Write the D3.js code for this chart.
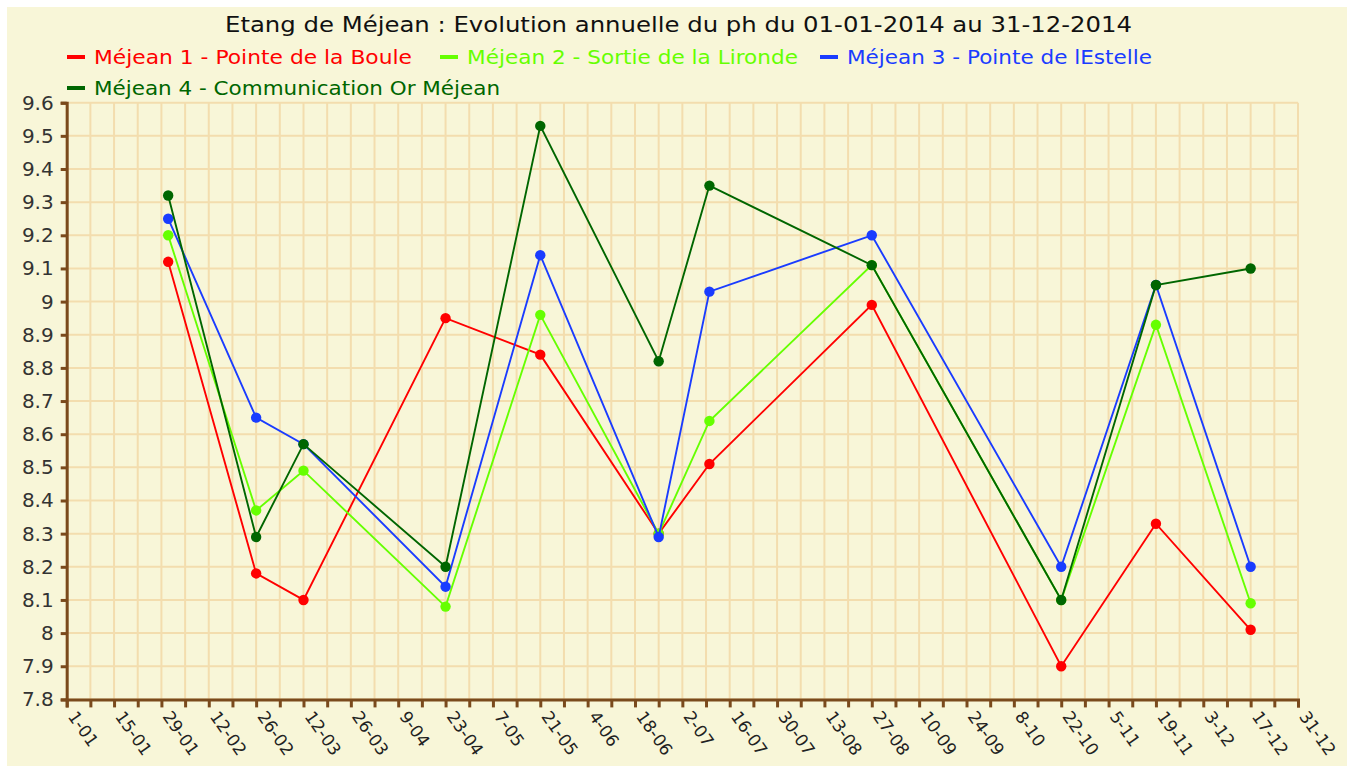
<!DOCTYPE html>
<html>
<head>
<meta charset="utf-8">
<script src="https://cdn.jsdelivr.net/npm/d3@7"></script>
<style>
  body { margin: 0; background: #fff; }
  svg { display: block; }
</style>
</head>
<body>
<svg id="chart"></svg>
<script>
// dates of the sampling campaigns
var dates = ["2014-01-31", "2014-02-26", "2014-03-12", "2014-04-23", "2014-05-21",
             "2014-06-25", "2014-07-10", "2014-08-27", "2014-10-22", "2014-11-19", "2014-12-17"];

var mejean1 = [9.12, 8.18, 8.10, 8.95, 8.84, 8.30, 8.51, 8.99, 7.90, 8.33, 8.01];
var mejean2 = [9.20, 8.37, 8.49, 8.08, 8.96, 8.30, 8.64, 9.11, 8.10, 8.93, 8.09];
var mejean3 = [9.25, 8.65, 8.57, 8.14, 9.14, 8.29, 9.03, 9.20, 8.20, 9.05, 8.20];
var mejean4 = [9.32, 8.29, 8.57, 8.20, 9.53, 8.82, 9.35, 9.11, 8.10, 9.05, 9.10];

var seriesNames = ["Méjean 1 - Pointe de la Boule", "Méjean 2 - Sortie de la Lironde",
                   "Méjean 3 - Pointe de lEstelle", "Méjean 4 - Communication Or Méjean"];
var colors = ["#ff0000", "#66ff00", "#1a3cff", "#006600"];

var yTicks = [7.8, 7.9, 8, 8.1, 8.2, 8.3, 8.4, 8.5, 8.6, 8.7, 8.8, 8.9, 9, 9.1, 9.2, 9.3, 9.4, 9.5, 9.6];
var xTickLabels = ["1-01", "15-01", "29-01", "12-02", "26-02", "12-03", "26-03", "9-04", "23-04",
                   "7-05", "21-05", "4-06", "18-06", "2-07", "16-07", "30-07", "13-08", "27-08",
                   "10-09", "24-09", "8-10", "22-10", "5-11", "19-11", "3-12", "17-12", "31-12"];

var width = 1352;
var height = 767;
var plotLeft = 66.7, plotRight = 1298, plotTop = 102.7, plotBottom = 699.4;
var axisColor = "#7a4a1c";
var gridColor = "#f3ddae";

var parse = d3.timeParse("%Y-%m-%d");
var series = [mejean1, mejean2, mejean3, mejean4].map((vals, k) => ({
  name: seriesNames[k],
  color: colors[k],
  points: vals.map((v, i) => ({date: parse(dates[i]), value: v}))
}));

var xScale = d3.scaleTime()
    .domain([parse("2014-01-01"), parse("2014-12-31")])
    .range([plotLeft, plotRight]);

var yScale = d3.scaleLinear()
    .domain([7.8, 9.6])
    .range([plotBottom, plotTop]);

var weeks = d3.timeWednesday.range(parse("2014-01-01"), parse("2015-01-01"));

var svg = d3.select("#chart")
    .attr("width", width)
    .attr("height", height);

svg.append("rect")
    .attr("x", 7).attr("y", 7)
    .attr("width", width - 12).attr("height", height - 8)
    .attr("fill", "#f8f6d8");

// grid
svg.append("g")
  .selectAll("line")
  .data(weeks)
  .enter()
  .append("line")
    .attr("x1", d => xScale(d)).attr("x2", d => xScale(d))
    .attr("y1", plotTop).attr("y2", plotBottom)
    .attr("stroke", gridColor)
    .attr("stroke-width", 2);

svg.append("g")
  .selectAll("line")
  .data(yTicks)
  .enter()
  .append("line")
    .attr("x1", plotLeft).attr("x2", plotRight)
    .attr("y1", d => yScale(d)).attr("y2", d => yScale(d))
    .attr("stroke", gridColor)
    .attr("stroke-width", 2);

// title
svg.append("text")
    .attr("x", 225).attr("y", 32)
    .attr("font-family", "DejaVu Sans")
    .attr("font-size", 22)
    .attr("fill", "#111")
    .attr("textLength", 907)
    .attr("lengthAdjust", "spacingAndGlyphs")
    .text("Etang de Méjean : Evolution annuelle du ph du 01-01-2014 au 31-12-2014");

// legend
var legendPos = [[67, 57], [440, 57], [820, 57], [67, 88]];
var legendLen = [318, 331, 305, 406];
var legend = svg.append("g")
  .selectAll("g")
  .data(series)
  .enter()
  .append("g")
    .attr("transform", (d, i) => "translate(" + legendPos[i][0] + "," + legendPos[i][1] + ")");

legend.append("rect")
    .attr("x", 0).attr("y", -2)
    .attr("width", 18).attr("height", 4)
    .attr("fill", d => d.color);

legend.append("text")
    .attr("x", 27).attr("y", 7)
    .attr("font-family", "DejaVu Sans")
    .attr("font-size", 19)
    .attr("fill", d => d.color)
    .attr("textLength", (d, i) => legendLen[i])
    .attr("lengthAdjust", "spacingAndGlyphs")
    .text(d => d.name);

// axes
var xAxis = d3.axisBottom(xScale)
    .tickValues(weeks)
    .tickSize(8)
    .tickFormat((d, i) => i % 2 ? "" : xTickLabels[i / 2]);

var gx = svg.append("g")
    .attr("transform", "translate(0," + plotBottom + ")")
    .call(xAxis);

gx.select(".domain").attr("stroke", axisColor).attr("stroke-width", 3);
gx.selectAll(".tick line").attr("stroke", axisColor).attr("stroke-width", 3);
gx.selectAll(".tick text")
    .attr("font-family", "DejaVu Sans")
    .attr("font-size", 17)
    .attr("fill", "#222")
    .attr("text-anchor", "start")
    .attr("y", 0).attr("dy", 0)
    .attr("transform", "translate(0,17) rotate(55)");

var yAxis = d3.axisLeft(yScale)
    .tickValues(yTicks)
    .tickSize(6)
    .tickFormat(d3.format("~g"));

var gy = svg.append("g")
    .attr("transform", "translate(" + plotLeft + ",0)")
    .call(yAxis);

gy.select(".domain").attr("stroke", axisColor).attr("stroke-width", 3);
gy.selectAll(".tick line").attr("stroke", axisColor).attr("stroke-width", 3);
gy.selectAll(".tick text")
    .attr("font-family", "DejaVu Sans")
    .attr("font-size", 20)
    .attr("fill", "#333")
    .attr("x", -13);

// series
var line = d3.line()
    .x(d => xScale(d.date))
    .y(d => yScale(d.value));

var groups = svg.append("g")
  .selectAll("g")
  .data(series)
  .enter()
  .append("g");

groups.append("path")
    .attr("d", d => line(d.points))
    .attr("fill", "none")
    .attr("stroke", d => d.color)
    .attr("stroke-width", 1.9);

groups.selectAll("circle")
  .data(d => d.points.map(p => ({p: p, color: d.color})))
  .enter()
  .append("circle")
    .attr("cx", d => xScale(d.p.date))
    .attr("cy", d => yScale(d.p.value))
    .attr("r", 5.2)
    .attr("fill", d => d.color);
</script>
</body>
</html>
